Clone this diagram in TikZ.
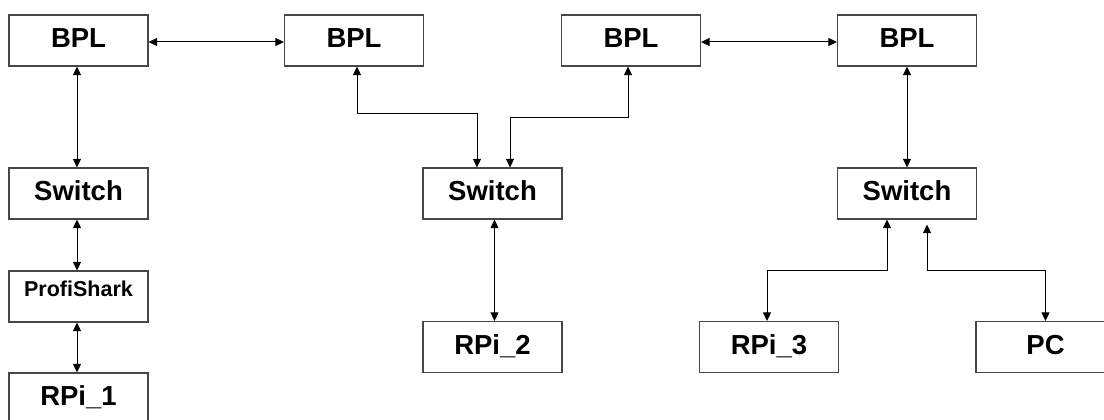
\documentclass[tikz,border=0pt]{standalone}
\usepackage{fontspec}
\setmainfont{Liberation Sans}
\usetikzlibrary{arrows.meta}
\begin{document}
\begin{tikzpicture}[x=1pt,y=-1pt,
  box/.style={draw=black!72, line width=1.2pt, minimum width=139pt, minimum height=51pt,
    inner sep=0pt, font=\fontsize{27.5}{30}\selectfont\bfseries, text height=19.5pt, text depth=5pt},
  smallbox/.style={box, font=\fontsize{21.5}{24}\selectfont\bfseries, text height=15.5pt, text depth=15pt},
  arr/.style={line width=1pt, {Triangle[length=8.5pt,width=8pt]}-{Triangle[length=8.5pt,width=8pt]}}]
\clip (0,0) rectangle (1104,420);
\useasboundingbox (0,0) rectangle (1104,420);
\node[box] (bpl1) at (78.5,40.5) {BPL};
\node[box] (bpl2) at (354,40.5) {BPL};
\node[box] (bpl3) at (631,40.5) {BPL};
\node[box] (bpl4) at (907,40.5) {BPL};
\node[box] (sw1) at (78.5,193.5) {Switch};
\node[box] (sw2) at (492.5,193.5) {Switch};
\node[box] (sw3) at (907,193.5) {Switch};
\node[smallbox] (ps) at (78.5,296.5) {ProfiShark};
\node[box] (rpi1) at (78.5,398.5) {RPi\_1};
\node[box] (rpi2) at (492.5,347) {RPi\_2};
\node[box] (rpi3) at (769,347) {RPi\_3};
\node[box] (pc) at (1045.5,347) {PC};

\draw[arr] ([yshift=-1.5pt]bpl1.east) -- ([yshift=-1.5pt]bpl2.west);
\draw[arr] ([yshift=-1.5pt]bpl3.east) -- ([yshift=-1.5pt]bpl4.west);
\draw[arr] ([xshift=-1.5pt]bpl1.south) -- ([xshift=-1.5pt]sw1.north);
\draw[arr] ([xshift=-1.5pt]sw1.south) -- ([xshift=-1.5pt]ps.north);
\draw[arr] ([xshift=-1.5pt]ps.south) -- ([xshift=-1.5pt]rpi1.north);
\draw[arr] ([xshift=3pt]bpl2.south) -- ++(0,47) -| ([xshift=-15.5pt]sw2.north);
\draw[arr] ([xshift=-3pt]bpl3.south) -- ++(0,51) -| ([xshift=17.5pt]sw2.north);
\draw[arr] ([xshift=2pt]sw2.south) -- ([xshift=2pt]rpi2.north);
\draw[arr] (bpl4.south) -- (sw3.north);
\draw[arr] ([xshift=-20pt]sw3.south) -- ++(0,51) -| ([xshift=-2pt]rpi3.north);
\draw[arr] ([xshift=20pt,yshift=-5pt]sw3.south) -- ++(0,46) -| (pc.north);
\end{tikzpicture}
\end{document}
